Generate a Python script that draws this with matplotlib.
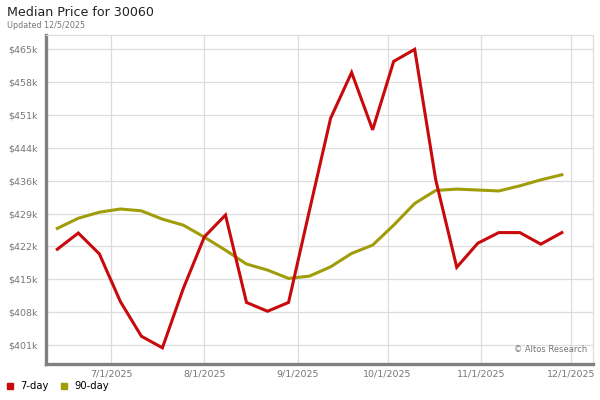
import numpy as np
import pandas as pd
import matplotlib
matplotlib.use('Agg')
import matplotlib.pyplot as plt
import matplotlib.dates as mdates
from matplotlib.lines import Line2D

# weekly points, values in $k
dates = ['2025-06-13', '2025-06-20', '2025-06-27', '2025-07-04', '2025-07-11',
         '2025-07-18', '2025-07-25', '2025-08-01', '2025-08-08', '2025-08-15',
         '2025-08-22', '2025-08-29', '2025-09-05', '2025-09-12', '2025-09-19',
         '2025-09-26', '2025-10-03', '2025-10-10', '2025-10-17', '2025-10-24',
         '2025-10-31', '2025-11-07', '2025-11-14', '2025-11-21', '2025-11-28']
price_7day = [422.1, 425.6, 421.1, 410.8, 403.3, 400.8, 413.7, 424.8, 429.5, 410.6,
              408.7, 410.6, 430.6, 450.4, 460.3, 447.9, 462.7, 465.3, 437.1, 418.2,
              423.4, 425.7, 425.7, 423.2, 425.7]
price_90day = [426.6, 428.8, 430.1, 430.8, 430.4, 428.6, 427.3, 424.7, 421.9, 418.9,
               417.6, 415.8, 416.3, 418.3, 421.2, 423.0, 427.3, 432.0, 434.8, 435.1,
               434.9, 434.7, 435.8, 437.1, 438.2]

y_ticks = [401.4, 408.5, 415.6, 422.7, 429.8, 436.9, 444.0, 451.1, 458.2, 465.3]
y_labels = ['$401k', '$408k', '$415k', '$422k', '$429k', '$436k', '$444k', '$451k', '$458k', '$465k']
x_ticks = ['2025-07-01', '2025-08-01', '2025-09-01', '2025-10-01', '2025-11-01', '2025-12-01']
x_labels = ['7/1/2025', '8/1/2025', '9/1/2025', '10/1/2025', '11/1/2025', '12/1/2025']

RED = '#c80a0c'
OLIVE = '#a19d0a'

x = pd.to_datetime(dates)

fig = plt.figure(figsize=(6, 4), dpi=100)
ax = fig.add_axes([0.0767, 0.09, 0.9123, 0.8225])

ax.plot(x, price_90day, color=OLIVE, lw=2.2, solid_joinstyle='miter', zorder=3)
ax.plot(x, price_7day, color=RED, lw=2.2, solid_joinstyle='miter', zorder=4)

ax.set_xlim(pd.Timestamp('2025-06-09 06:00'), pd.Timestamp('2025-12-08 12:00'))
ax.set_ylim(397.3, 468.4)
ax.set_yticks(y_ticks)
ax.set_yticklabels(y_labels)
ax.set_xticks(pd.to_datetime(x_ticks))
ax.set_xticklabels(x_labels)
ax.tick_params(axis='both', length=0, labelsize=6.8, colors='#777777')
ax.tick_params(axis='y', pad=6)
ax.tick_params(axis='x', pad=4)
ax.grid(True, color='#dddddd', lw=0.9)
ax.set_axisbelow(True)

for side in ['top', 'right']:
    ax.spines[side].set_color('#dddddd')
    ax.spines[side].set_linewidth(0.9)
for side in ['left', 'bottom']:
    ax.spines[side].set_color('#808080')
    ax.spines[side].set_linewidth(2.4)

ax.text(0.988, 0.03, '\u00a9 Altos Research', transform=ax.transAxes,
        ha='right', va='bottom', fontsize=6, color='#777777')

fig.text(0.012, 0.97, 'Median Price for 30060', ha='left', va='center',
         fontsize=9.1, color='#222222')
fig.text(0.012, 0.937, 'Updated 12/5/2025', ha='left', va='center',
         fontsize=5.8, color='#777777')

handles = [Line2D([], [], ls='none', marker='s', ms=4.3, color=RED),
           Line2D([], [], ls='none', marker='s', ms=4.3, color=OLIVE)]
fig.legend(handles, ['7-day', '90-day'], loc='lower left', bbox_to_anchor=(-0.005, 0.0),
           ncol=2, frameon=False, fontsize=7.2, handlelength=0.8, handletextpad=0.6,
           columnspacing=1.2)

fig.savefig('out.png', dpi=100)
